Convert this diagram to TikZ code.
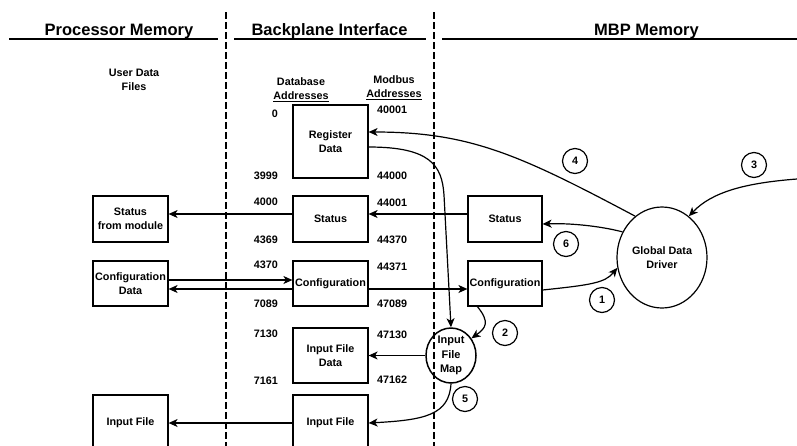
\documentclass[tikz,border=0pt]{standalone}
\usepackage{fontspec}
\setmainfont{Liberation Sans}
\usetikzlibrary{arrows.meta,shapes.geometric}
\begin{document}
\begin{tikzpicture}[x=1pt,y=-1pt,
  every node/.style={font=\fontsize{10.8}{14}\selectfont\bfseries, inner sep=0pt, align=center},
  hdr/.style={font=\fontsize{16.5}{19}\selectfont\bfseries, anchor=base},
  box/.style={draw, line width=1.2pt, minimum width=75pt},
  numr/.style={anchor=base east},
  numl/.style={anchor=base west},
  numc/.style={draw, circle, line width=1.2pt, minimum size=25pt},
  arr/.style={-{Stealth[length=9pt,width=8pt,inset=2.5pt]}, line width=1.2pt},
  sep/.style={line width=2pt, dash pattern=on 6.5pt off 3.5pt},
  uline/.style={line width=1.8pt}
]
\useasboundingbox (0,0) rectangle (797,445);

% separators and headers
\coordinate (s1t) at (226,12); \coordinate (s1b) at (226,450);
\coordinate (s2t) at (434,12); \coordinate (s2b) at (434,450);
\draw[sep] (s1t) -- (s1b);
\draw[sep] (s2t) -- (s2b);
\node[hdr] (h1) at (119,35) {Processor Memory};
\node[hdr] (h2) at (329.5,35) {Backplane Interface};
\node[hdr] (h3) at (646.5,35) {MBP Memory};
\draw[uline] (9,39) -- (218,39);
\draw[uline] (234,39) -- (426,39);
\draw[uline] (442,39) -- (797,39);

\node (udf) at (134,80) {User Data\\Files};
\node (dba) at (301,89.5) {Database\\\underline{Addresses}};
\node (mba) at (394,88) {Modbus\\\underline{Addresses}};

% backplane boxes
\node[box, minimum height=73pt] (reg) at (330.5,141.5) {Register\\Data};
\node[box, minimum height=46pt] (stbp) at (330.5,219) {Status};
\node[box, minimum height=45pt] (cfgbp) at (330.5,283.5) {Configuration};
\node[box, minimum height=55pt] (ifd) at (330.5,355.5) {Input File\\Data};
\node[box, minimum height=56pt] (ifbp) at (330.5,423) {Input File};

% processor boxes
\node[box, minimum height=46pt] (stl) at (130.5,219) {Status\\from module};
\node[box, minimum height=45pt] (cfgl) at (130.5,283.5) {Configuration\\Data};
\node[box, minimum height=56pt] (ifl) at (130.5,423) {Input File};

% MBP boxes
\node[box, minimum width=74pt, minimum height=46pt] (stm) at (505,219) {Status};
\node[box, minimum width=74pt, minimum height=45pt] (cfgm) at (505,283.5) {Configuration};
\node[draw, ellipse, line width=1.2pt, minimum width=90pt, minimum height=101pt] (gdd) at (662,257.5) {Global Data\\Driver};
\node[draw, ellipse, line width=1.5pt, inner sep=-6pt, minimum width=50pt, minimum height=55pt,
      font=\fontsize{11}{14.5}\selectfont\bfseries] (ifm) at (451,355.5) {Input\\File\\Map};

% address numbers
\node[numr] (a0) at (278,117) {0};
\node[numr] (a1) at (278,179) {3999};
\node[numr] (a2) at (278,205) {4000};
\node[numr] (a3) at (278,243) {4369};
\node[numr] (a4) at (278,268) {4370};
\node[numr] (a5) at (278,307) {7089};
\node[numr] (a6) at (278,337) {7130};
\node[numr] (a7) at (278,384) {7161};
\node[numl] (m0) at (377,113) {40001};
\node[numl] (m1) at (377,179) {44000};
\node[numl] (m2) at (377,206) {44001};
\node[numl] (m3) at (377,243) {44370};
\node[numl] (m4) at (377,270) {44371};
\node[numl] (m5) at (377,307) {47089};
\node[numl] (m6) at (377,338) {47130};
\node[numl] (m7) at (377,383) {47162};

% step numbers
\node[numc] (c1) at (602,300) {1};
\node[numc] (c2) at (505,333) {2};
\node[numc] (c3) at (754,165) {3};
\node[numc] (c4) at (575,161) {4};
\node[numc] (c5) at (465,399) {5};
\node[numc] (c6) at (566,244) {6};

% straight connectors
\draw[arr] ([yshift=5pt]stbp.west) -- ([yshift=5pt]stl.east);
\draw[arr] ([yshift=3.5pt]cfgl.east) -- ([yshift=3.5pt]cfgbp.west);
\draw[arr] ([yshift=-5.5pt]cfgbp.west) -- ([yshift=-5.5pt]cfgl.east);
\draw[arr] ([yshift=-5.5pt]cfgbp.east) -- ([yshift=-5.5pt]cfgm.west);
\draw[arr] ([yshift=5pt]stm.west) -- ([yshift=5pt]stbp.east);
\draw[arr] (ifm.west) -- (ifd.east);
\draw[arr] (ifbp.west) -- (ifl.east);

% curved connectors
\coordinate (e3) at (797,179);
\draw[arr] (gdd.123) .. controls (520,155) and (470,132) .. ([yshift=9.5pt]reg.east);
\draw[arr] (e3) .. controls (745,183) and (712,192) .. (gdd.57);
\draw[arr] (gdd.147) .. controls (600,226) and (570,223) .. ([yshift=-5pt]stm.east);
\draw[arr] ([yshift=-6.5pt]cfgm.east) .. controls (590,285) and (605,283) .. (gdd.193);
\draw[arr] ([yshift=-5.5pt]reg.east) .. controls (430,147) and (442,165) .. (444,195) -- (ifm.north);
\draw[arr] ([xshift=10pt]cfgm.south west) .. controls (490,322) and (486,328) .. (ifm.40);
\draw[arr] (ifm.south) .. controls (449,415) and (425,420) .. (ifbp.east);
\end{tikzpicture}
\end{document}
